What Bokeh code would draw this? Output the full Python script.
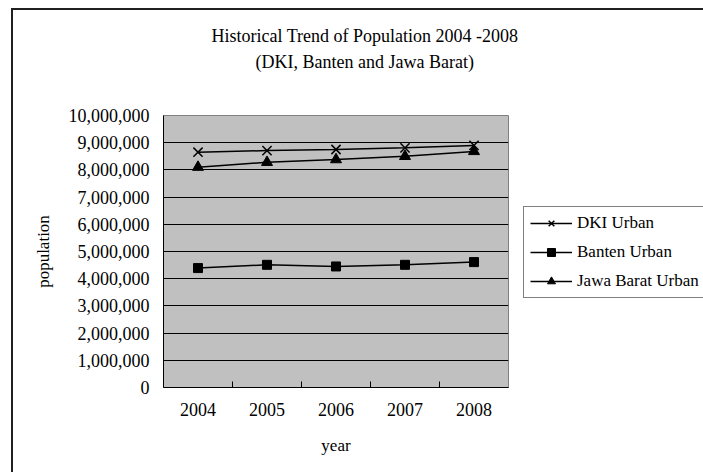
from bokeh.plotting import figure
from bokeh.models import (Range1d, FixedTicker, NumeralTickFormatter, Legend, LegendItem, Title)
from bokeh.embed import file_html
from bokeh.resources import INLINE

years = ["2004", "2005", "2006", "2007", "2008"]
dki_urban = [8650000, 8710000, 8750000, 8810000, 8900000]
banten_urban = [4390000, 4510000, 4450000, 4510000, 4610000]
jabar_urban = [8100000, 8280000, 8380000, 8500000, 8680000]
y_ticks = list(range(0, 10000001, 1000000))

FONT = "Liberation Serif"

# outer chart border position (left/top edges) and plot-area geometry
BX, BY, BW = 11, 8, 2
FL, FR, FT, FB = 163, 508, 115, 387
FW, FH = FR - FL, FB - FT
W, H = 703, 472
XMAX, YMAX = len(years), 10000000

p = figure(frame_width=FW, frame_height=FH,
           min_border_left=FL, min_border_right=W - FR,
           min_border_top=FT, min_border_bottom=H - FB,
           x_range=Range1d(0, XMAX), y_range=Range1d(0, YMAX),
           output_backend="svg", toolbar_location=None, tools="")
# chart border drawn behind a transparent canvas border area
p.styles = {"background": (f"linear-gradient(#202020, #202020) {BX}px {BY}px / {BW}px 100% no-repeat, "
                           f"linear-gradient(#202020, #202020) {BX}px {BY}px / 100% {BW}px no-repeat, "
                           "white")}

p.background_fill_color = "#c0c0c0"
p.border_fill_color = None
p.outline_line_color = "#808080"
p.outline_line_width = 1

xs = [i + 0.5 for i in range(len(years))]

# axes
xa = p.xaxis[0]
xa.ticker = FixedTicker(ticks=xs, minor_ticks=[i for i in range(1, len(years))])
xa.major_label_overrides = {x: y for x, y in zip(xs, years)}
xa.major_tick_in = 0
xa.major_tick_out = 0
xa.minor_tick_in = 6
xa.minor_tick_out = 0
xa.minor_tick_line_color = "black"
xa.axis_line_color = "black"
xa.major_label_text_font = FONT
xa.major_label_text_font_size = "18px"
xa.major_label_text_color = "black"
xa.major_label_standoff = 15
xa.axis_label = "year"
xa.axis_label_text_font = FONT
xa.axis_label_text_font_size = "17px"
xa.axis_label_text_font_style = "normal"
xa.axis_label_text_color = "black"
xa.axis_label_standoff = 17

ya = p.yaxis[0]
ya.ticker = FixedTicker(ticks=y_ticks)
ya.formatter = NumeralTickFormatter(format="0,0")
ya.major_tick_in = 0
ya.major_tick_out = 0
ya.minor_tick_line_color = None
ya.axis_line_color = "black"
ya.major_label_text_font = FONT
ya.major_label_text_font_size = "18px"
ya.major_label_text_color = "black"
ya.major_label_standoff = 14
ya.axis_label = "population"
ya.axis_label_text_font = FONT
ya.axis_label_text_font_size = "17px"
ya.axis_label_text_font_style = "normal"
ya.axis_label_text_color = "black"
ya.axis_label_standoff = 13

p.xgrid.grid_line_color = None
p.ygrid.ticker = FixedTicker(ticks=y_ticks)
p.ygrid.grid_line_color = "black"
p.ygrid.grid_line_width = 1

# series
l1 = p.line(xs, dki_urban, line_color="black", line_width=1.5)
m1 = p.scatter(xs, dki_urban, marker="x", size=13, line_color="black", line_width=1.5)
l2 = p.line(xs, banten_urban, line_color="black", line_width=1.5)
m2 = p.scatter(xs, banten_urban, marker="square", size=9, fill_color="black", line_color="black")
l3 = p.line(xs, jabar_urban, line_color="black", line_width=1.5)
m3 = p.scatter(xs, jabar_urban, marker="triangle", size=11, fill_color="black", line_color="black")

legend = Legend(items=[
    LegendItem(label="DKI Urban", renderers=[l1, m1]),
    LegendItem(label="Banten Urban", renderers=[l2, m2]),
    LegendItem(label="Jawa Barat Urban", renderers=[l3, m3]),
], location=(15, 89))
legend.label_text_font = FONT
legend.label_text_font_size = "17px"
legend.label_text_color = "black"
legend.glyph_width = 42
legend.glyph_height = 20
legend.label_height = 20
legend.label_standoff = 5
legend.spacing = 9
legend.padding = 6
legend.margin = 0
legend.border_line_color = "black"
legend.border_line_width = 1
legend.background_fill_color = "white"
legend.background_fill_alpha = 1
p.add_layout(legend, "right")

# two-line chart title (spacer nearest the plot area, then line 2, then line 1)
p.add_layout(Title(text=" ", text_font_size="1px", standoff=39), "above")
p.add_layout(Title(text="(DKI, Banten and Jawa Barat)", align="left", offset=92,
                   text_font=FONT, text_font_size="18px", text_font_style="normal",
                   text_color="black", standoff=4), "above")
p.title = Title(text="Historical Trend of Population 2004 -2008", align="left", offset=48,
                text_font=FONT, text_font_size="18px", text_font_style="normal",
                text_color="black", standoff=4)

open("out.html", "w").write(file_html(p, INLINE))
